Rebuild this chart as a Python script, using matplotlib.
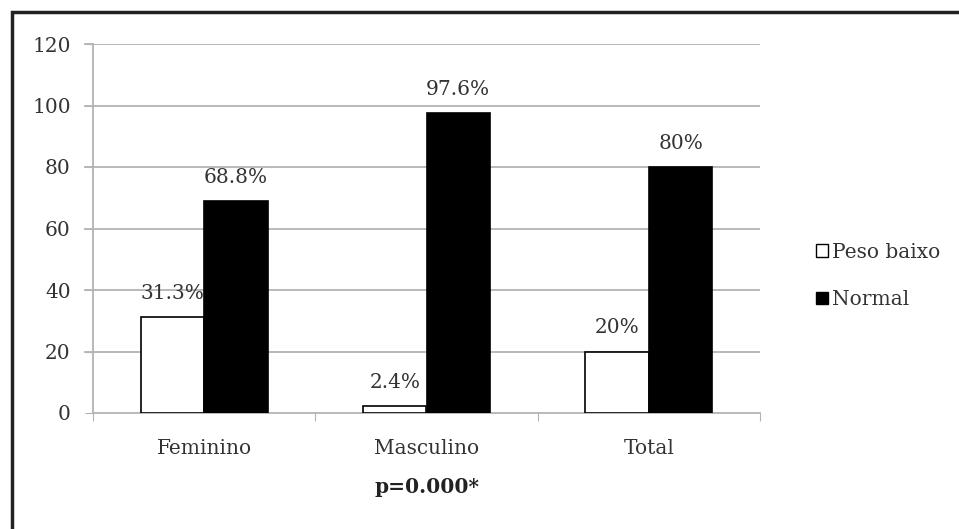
import matplotlib.pyplot as plt
import matplotlib.patches as mpatches
import numpy as np

categories = ['Feminino', 'Masculino', 'Total']
peso_baixo = [31.3, 2.4, 20]
normal = [68.8, 97.6, 80]
peso_labels = ['31.3%', '2.4%', '20%']
normal_labels = ['68.8%', '97.6%', '80%']
yticks = [0, 20, 40, 60, 80, 100, 120]

plt.rcParams['font.family'] = ['DejaVu Serif']

fig = plt.figure(figsize=(9.59, 5.29), dpi=100)
ax = fig.add_axes([93/959, 1-413/529, (760-93)/959, (413-44)/529])

# outer frame (only top and left edges are visible in the crop)
fig.patches.append(mpatches.Rectangle((12/959, -0.1), 1.2, 1 - 12/529 + 0.1,
                                      transform=fig.transFigure, fill=False,
                                      edgecolor='#222222', linewidth=2.5))

grid_c = '#b3b3b3'
txt_c = '#333333'
fs = 14.5
centers = np.arange(len(categories)) + 0.5
w = 0.286
ax.bar(centers - w/2, peso_baixo, w, color='white', edgecolor='black', linewidth=1.2, zorder=3)
ax.bar(centers + w/2, normal, w, color='black', edgecolor='black', linewidth=1.2, zorder=3)

for c, v, lab in zip(centers, peso_baixo, peso_labels):
    ax.annotate(lab, (c - w/2, v), xytext=(0, 17), textcoords='offset points',
                ha='center', va='center', fontsize=fs, color=txt_c)
for c, v, lab in zip(centers, normal, normal_labels):
    ax.annotate(lab, (c + w/2, v), xytext=(0, 17), textcoords='offset points',
                ha='center', va='center', fontsize=fs, color=txt_c)

ax.set_xlim(0, 3)
ax.set_ylim(0, 120)
ax.set_yticks(yticks)
ax.tick_params(axis='y', length=6, color=grid_c, labelsize=fs, labelcolor=txt_c, pad=10)
for y in yticks[1:]:
    ax.axhline(y, color=grid_c, linewidth=1.3, zorder=1)
    ax.plot([-0.035, 0], [y, y], color=grid_c, linewidth=1.3, clip_on=False)
ax.set_xticks([0, 1, 2, 3])
ax.set_xticklabels([])
ax.set_xticks(centers, minor=True)
ax.set_xticklabels(categories, minor=True)
ax.tick_params(axis='x', which='major', length=6, color=grid_c)
ax.tick_params(axis='x', which='minor', length=0, labelsize=fs, labelcolor=txt_c, pad=19)

for s in ['top', 'right']:
    ax.spines[s].set_visible(False)
for s in ['left', 'bottom']:
    ax.spines[s].set_color(grid_c)
    ax.spines[s].set_linewidth(1.3)

fig.text(427/959, 1-487/529, 'p=0.000*', ha='center', va='center',
         fontsize=fs, fontweight='bold', color='#222222')

handles = [mpatches.Patch(facecolor='white', edgecolor='black', linewidth=1),
           mpatches.Patch(facecolor='black', edgecolor='black', linewidth=1)]
fig.legend(handles, ['Peso baixo', 'Normal'], loc='center left',
           bbox_to_anchor=(798/959, 1-276/529), frameon=False, fontsize=fs,
           handlelength=0.6, handleheight=0.6, handletextpad=0.2, labelspacing=1.4,
           labelcolor=txt_c)

fig.savefig('out.png', dpi=100)
